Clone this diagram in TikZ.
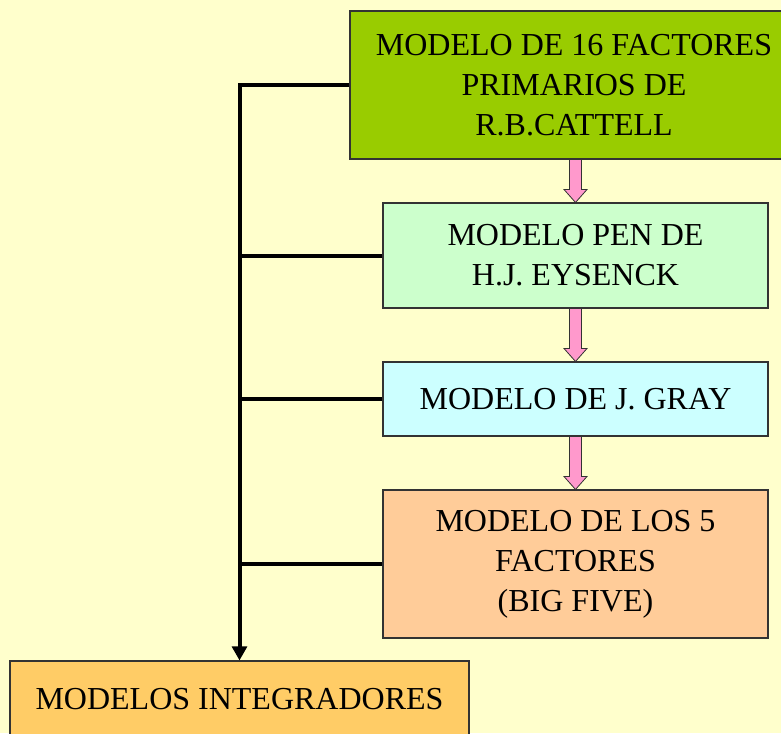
\documentclass[tikz,border=0pt]{standalone}
\usepackage{fontspec}
\setmainfont{Liberation Serif}
\usepackage{tikz}
\usetikzlibrary{calc,arrows.meta}

\definecolor{fondo}{HTML}{FFFFCC}
\definecolor{verde}{HTML}{99CC00}
\definecolor{verdeclaro}{HTML}{CCFFCC}
\definecolor{celeste}{HTML}{CCFFFF}
\definecolor{salmon}{HTML}{FFCC99}
\definecolor{naranja}{HTML}{FFCC66}
\definecolor{rosa}{HTML}{FF99CC}

\begin{document}
\begin{tikzpicture}[x=0.75pt,y=-0.75pt,
    modelo/.style={draw=black!80, line width=0.8pt, align=center, inner sep=0pt,
      font=\fontsize{24}{30}\selectfont},
    rama/.style={line width=3pt, black},
    flecha/.style={draw=black!80, fill=rosa, line width=0.6pt}]
\useasboundingbox (0,0) rectangle (781,733);
\fill[fondo] (0,0) rectangle (781,733);

\node[modelo, fill=verde, minimum width=336pt, minimum height=111pt] (cattell) at (574,85)
  {MODELO DE 16 FACTORES\\PRIMARIOS DE\\R.B.CATTELL};
\node[modelo, fill=verdeclaro, minimum width=288.75pt, minimum height=78.75pt] (eysenck) at (575.5,255.5)
  {MODELO PEN DE\\H.J. EYSENCK};
\node[modelo, fill=celeste, minimum width=288.75pt, minimum height=55.5pt] (gray) at (575.5,399)
  {MODELO DE J. GRAY};
\node[modelo, fill=salmon, minimum width=288.75pt, minimum height=111pt] (bigfive) at (575.5,564)
  {MODELO DE LOS 5\\FACTORES\\(BIG FIVE)};
\node[modelo, fill=naranja, minimum width=344.25pt, minimum height=57pt] (integradores) at (239.5,699)
  {MODELOS INTEGRADORES};

% flechas rosas
\foreach \a/\b in {cattell/eysenck, eysenck/gray, gray/bigfive}
  \draw[flecha] ($(\a.south -| \b.north)+(-6,0)$) -- ($(\b.north)+(-6,-13)$)
    -- ($(\b.north)+(-11.5,-13)$) -- (\b.north) -- ($(\b.north)+(11.5,-13)$)
    -- ($(\b.north)+(6,-13)$) -- ($(\a.south -| \b.north)+(6,0)$) -- cycle;

% ramas hacia modelos integradores
\draw[rama, -{Triangle[length=10.5pt,width=11pt]}] (cattell.west) -| (integradores.north);
\draw[rama] (eysenck.west) -- (eysenck.west -| integradores.north);
\draw[rama] (gray.west) -- (gray.west -| integradores.north);
\draw[rama] (bigfive.west) -- (bigfive.west -| integradores.north);
\end{tikzpicture}
\end{document}
